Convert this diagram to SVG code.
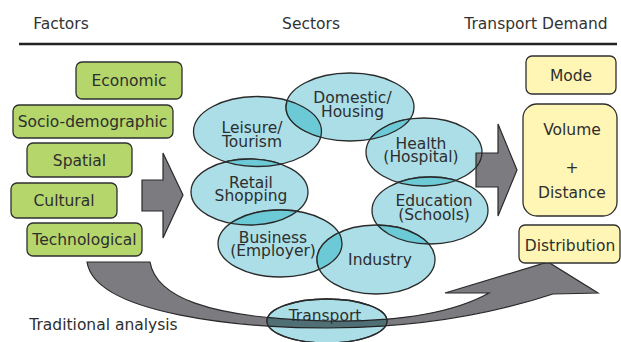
<svg xmlns="http://www.w3.org/2000/svg" width="621" height="342" viewBox="0 0 621 342">
<style>
text{font-family:"DejaVu Sans","Liberation Sans",sans-serif;font-size:15.5px;fill:#2e2e2e;text-anchor:middle}
.hdr{fill:#333}
.fac{fill:#b4d66b;stroke:#2f2f2f;stroke-width:1.3}
.dem{fill:#fff6b5;stroke:#2f2f2f;stroke-width:1.3}
.sec{fill:#abdee7;stroke:#2a2a2a;stroke-width:1.3}
.ov{fill:#6ccad6;stroke:#2a2a2a;stroke-width:1.3}
.ln{fill:none;stroke:#2a2a2a;stroke-width:1.3}
.arr{fill:#7b7b80;stroke:#2a2a2a;stroke-width:1.2}
</style>
<defs>
<ellipse id="eL" cx="257.5" cy="131.5" rx="64" ry="35"/>
<ellipse id="eD" cx="350" cy="107" rx="64" ry="34"/>
<ellipse id="eH" cx="424" cy="152" rx="58" ry="34"/>
<ellipse id="eR" cx="249.5" cy="192" rx="58.5" ry="33"/>
<ellipse id="eE" cx="430" cy="210.5" rx="58" ry="33.5"/>
<ellipse id="eB" cx="280" cy="243.5" rx="62" ry="33.5"/>
<ellipse id="eI" cx="376" cy="259.5" rx="59" ry="34.5"/>
<ellipse id="eT" cx="327" cy="321" rx="60" ry="22"/>
<path id="bigArrow" d="M87,262 L150,262 C156,296 205,318 327,321 C400,322 455,312 489,293 L445,293 L548,262 L598,293 L553,294 C480,318 400,328 327,328 C245,328 95,315 87,262 Z"/>
<clipPath id="cL"><use href="#eL"/></clipPath>
<clipPath id="cD"><use href="#eD"/></clipPath>
<clipPath id="cH"><use href="#eH"/></clipPath>
<clipPath id="cR"><use href="#eR"/></clipPath>
<clipPath id="cE"><use href="#eE"/></clipPath>
<clipPath id="cB"><use href="#eB"/></clipPath>
<clipPath id="cI"><use href="#eI"/></clipPath>
<clipPath id="cT"><use href="#eT"/></clipPath>
<clipPath id="cArrR"><path d="M476,153 L498,153 L498,124 L517,170 L498,216 L498,187 L476,187 Z"/></clipPath>
</defs>

<g id="header">
<text class="hdr" x="61" y="29">Factors</text>
<text class="hdr" x="311" y="29">Sectors</text>
<text class="hdr" x="536" y="29">Transport Demand</text>
<line x1="19" y1="44" x2="617" y2="44" stroke="#222" stroke-width="2.5"/>
</g>

<g id="factor-economic"><rect class="fac" x="76" y="62" width="106" height="37" rx="6"/><text x="129" y="85.5">Economic</text></g>
<g id="factor-socio"><rect class="fac" x="13" y="105" width="160" height="33" rx="6"/><text x="92.5" y="127">Socio-demographic</text></g>
<g id="factor-spatial"><rect class="fac" x="27" y="143" width="105" height="34" rx="6"/><text x="79.5" y="165.5">Spatial</text></g>
<g id="factor-cultural"><rect class="fac" x="11" y="183" width="106" height="35" rx="6"/><text x="64" y="206">Cultural</text></g>
<g id="factor-technological"><rect class="fac" x="27" y="223" width="115" height="33" rx="6"/><text x="84.5" y="245">Technological</text></g>

<g id="sector-leisure"><use href="#eL" class="sec"/><text x="252" y="132.5">Leisure/</text><text x="252" y="146.5">Tourism</text></g>
<g id="sector-domestic"><use href="#eD" class="sec"/><text x="352.5" y="102.5">Domestic/</text><text x="352.5" y="116.5">Housing</text></g>
<g id="sector-health"><use href="#eH" class="sec"/><text x="421" y="148.5">Health</text><text x="421" y="162">(Hospital)</text></g>
<g id="sector-retail"><use href="#eR" class="sec"/><text x="251" y="187.5">Retail</text><text x="251" y="201">Shopping</text></g>
<g id="sector-education"><use href="#eE" class="sec"/><text x="434" y="206">Education</text><text x="434" y="219.5">(Schools)</text></g>
<g id="sector-business"><use href="#eB" class="sec"/><text x="273" y="242.5">Business</text><text x="273" y="256">(Employer)</text></g>
<g id="sector-industry"><use href="#eI" class="sec"/><text x="380" y="265">Industry</text></g>

<g id="overlaps">
<use href="#eL" class="ov" clip-path="url(#cD)"/><use href="#eD" class="ln" clip-path="url(#cL)"/>
<use href="#eD" class="ov" clip-path="url(#cH)"/><use href="#eH" class="ln" clip-path="url(#cD)"/>
<use href="#eH" class="ov" clip-path="url(#cE)"/><use href="#eE" class="ln" clip-path="url(#cH)"/>
<use href="#eL" class="ov" clip-path="url(#cR)"/><use href="#eR" class="ln" clip-path="url(#cL)"/>
<use href="#eR" class="ov" clip-path="url(#cB)"/><use href="#eB" class="ln" clip-path="url(#cR)"/>
<use href="#eB" class="ov" clip-path="url(#cI)"/><use href="#eI" class="ln" clip-path="url(#cB)"/>
<use href="#eI" class="ov" clip-path="url(#cE)"/><use href="#eE" class="ln" clip-path="url(#cI)"/>
</g>

<g id="connectors">
<path class="arr" d="M142,180 L163,180 L163,153 L183,195 L163,238 L163,211 L142,211 Z"/>
<path class="arr" d="M476,153 L498,153 L498,124 L517,170 L498,216 L498,187 L476,187 Z"/>
<use href="#eH" class="ln" clip-path="url(#cArrR)"/>
<use href="#bigArrow" class="arr"/>
<text x="103.5" y="330">Traditional analysis</text>
</g>

<g id="sector-transport">
<use href="#eT" class="sec"/>
<use href="#bigArrow" fill="#4f6f75" stroke="#222" stroke-width="1.2" clip-path="url(#cT)"/>
<use href="#eT" class="ln"/>
<text x="325" y="320.5">Transport</text>
</g>

<g id="demand-mode"><rect class="dem" x="526" y="56" width="90" height="38" rx="6"/><text x="571" y="80.5">Mode</text></g>
<g id="demand-volume"><rect class="dem" x="523" y="104" width="94" height="112" rx="14"/><text x="572" y="134.5">Volume</text><text x="572" y="172.5">+</text><text x="572" y="197.5">Distance</text></g>
<g id="demand-distribution"><rect class="dem" x="519" y="225" width="101" height="38" rx="6"/><text x="570" y="250.5">Distribution</text></g>
</svg>
